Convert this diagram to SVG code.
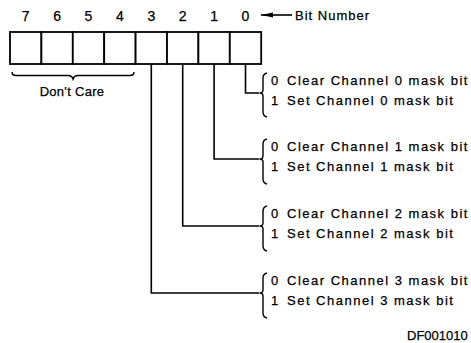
<svg xmlns="http://www.w3.org/2000/svg" width="471" height="343" viewBox="0 0 471 343">
<style>
text{font-family:"Liberation Sans",Arial,sans-serif;font-size:13px;fill:#000;stroke:#000;stroke-width:0.25}
.d{text-anchor:middle}
.n{font-size:14px}
.t{letter-spacing:1.5px}
.box{fill:#fff;stroke:#000;stroke-width:1.8}
.ln{fill:none;stroke:#000;stroke-width:1.6}
.br{fill:none;stroke:#000;stroke-width:1.4}
</style>
<defs>
<marker id="ah" markerWidth="12" markerHeight="6" refX="0" refY="3" orient="auto" markerUnits="userSpaceOnUse">
<path d="M0,3 L12,0.5 L12,5.5 Z" fill="#000"/>
</marker>
</defs>
<g id="bitnumbers">
<text class="d n" x="25.7" y="21">7</text>
<text class="d n" x="57.1" y="21">6</text>
<text class="d n" x="88.5" y="21">5</text>
<text class="d n" x="119.9" y="21">4</text>
<text class="d n" x="151.3" y="21">3</text>
<text class="d n" x="182.7" y="21">2</text>
<text class="d n" x="214.1" y="21">1</text>
<text class="d n" x="245.5" y="21">0</text>
</g>
<g id="bitnumber-label">
<line x1="261" y1="15" x2="292" y2="15" class="ln" marker-start="url(#ah)"/>
<text class="t" x="295" y="20" style="letter-spacing:1px">Bit Number</text>
</g>
<g id="register">
<rect class="box" x="10" y="32" width="31.4" height="32"/>
<rect class="box" x="41.4" y="32" width="31.4" height="32"/>
<rect class="box" x="72.8" y="32" width="31.4" height="32"/>
<rect class="box" x="104.2" y="32" width="31.4" height="32"/>
<rect class="box" x="135.6" y="32" width="31.4" height="32"/>
<rect class="box" x="167" y="32" width="31.4" height="32"/>
<rect class="box" x="198.4" y="32" width="31.4" height="32"/>
<rect class="box" x="229.8" y="32" width="31.4" height="32"/>
</g>
<g id="dontcare">
<path class="br" d="M12,72 Q12,75.5 16,75.5 L68,75.5 Q72,75.5 73,79 Q74,75.5 78,75.5 L130,75.5 Q134,75.5 134,72"/>
<text class="d" x="72" y="96" style="letter-spacing:0.3px">Don't Care</text>
</g>
<g id="connectors">
<polyline class="ln" points="245.5,64 245.5,93 259,93"/>
<polyline class="ln" points="214.1,64 214.1,159 259,159"/>
<polyline class="ln" points="182.7,64 182.7,226 259,226"/>
<polyline class="ln" points="151.3,64 151.3,293 259,293"/>
</g>
<g id="channel0">
<path class="br" d="M267,73 Q263,74 263,78 L263,90 Q263,93 259.5,93 Q263,93 263,96 L263,112 Q263,116 267,117"/>
<text x="271" y="85"><tspan>0</tspan><tspan class="t" x="287">Clear Channel 0 mask bit</tspan></text>
<text x="271" y="105"><tspan>1</tspan><tspan class="t" x="287">Set Channel 0 mask bit</tspan></text>
</g>
<g id="channel1">
<path class="br" d="M267,139 Q263,140 263,144 L263,156 Q263,159 259.5,159 Q263,159 263,162 L263,179 Q263,183 267,184"/>
<text x="271" y="151"><tspan>0</tspan><tspan class="t" x="287">Clear Channel 1 mask bit</tspan></text>
<text x="271" y="171"><tspan>1</tspan><tspan class="t" x="287">Set Channel 1 mask bit</tspan></text>
</g>
<g id="channel2">
<path class="br" d="M267,206 Q263,207 263,211 L263,223 Q263,226 259.5,226 Q263,226 263,229 L263,246 Q263,250 267,251"/>
<text x="271" y="218"><tspan>0</tspan><tspan class="t" x="287">Clear Channel 2 mask bit</tspan></text>
<text x="271" y="238"><tspan>1</tspan><tspan class="t" x="287">Set Channel 2 mask bit</tspan></text>
</g>
<g id="channel3">
<path class="br" d="M267,273 Q263,274 263,278 L263,290 Q263,293 259.5,293 Q263,293 263,296 L263,313 Q263,317 267,318"/>
<text x="271" y="285"><tspan>0</tspan><tspan class="t" x="287">Clear Channel 3 mask bit</tspan></text>
<text x="271" y="305"><tspan>1</tspan><tspan class="t" x="287">Set Channel 3 mask bit</tspan></text>
</g>
<text x="407" y="340">DF001010</text>
</svg>
